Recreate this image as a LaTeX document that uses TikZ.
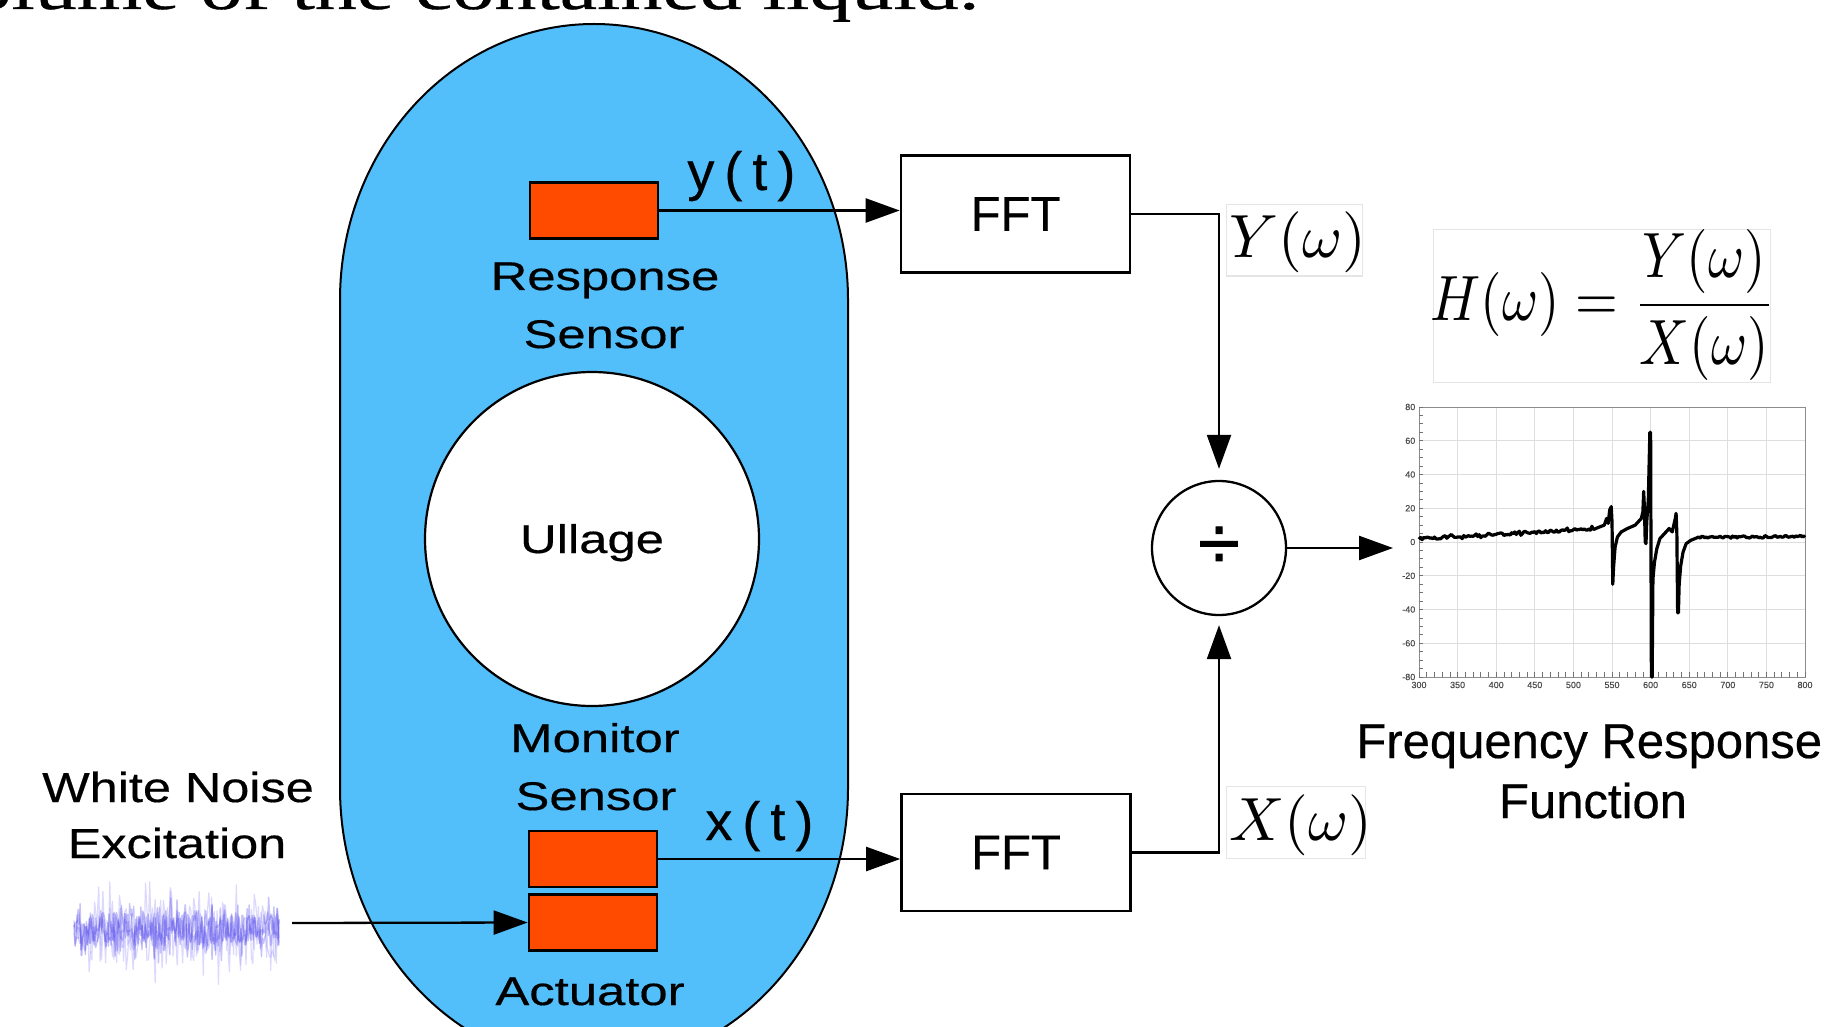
\documentclass[tikz,border=0pt]{standalone}
\usepackage[no-math]{fontspec}
\usepackage{graphicx}
\setmainfont[FakeBold=0.4]{Liberation Sans}
\newfontfamily\capfont[FakeStretch=1.27,FakeBold=0.4]{Liberation Sans}
\newfontfamily\noisefont[FakeStretch=1.2,FakeBold=0.4]{Liberation Sans}
\newfontfamily\topserif[FakeStretch=1.4,FakeBold=0.6]{Liberation Serif}
\newfontfamily\divfont[FakeBold=1]{Liberation Sans}
\usetikzlibrary{arrows.meta}
\definecolor{liq}{RGB}{82,190,250}
\definecolor{sens}{RGB}{255,75,0}
\definecolor{wave}{RGB}{85,75,235}
\definecolor{wavelight}{RGB}{140,130,250}
\definecolor{gridc}{RGB}{222,222,222}
\tikzset{
  capsule/.style={fill=liq,draw=black,line width=1pt},
  sensorbox/.style={draw=black,fill=sens,line width=1.4pt,minimum width=64pt,minimum height=28pt,inner sep=0pt},
  fftbox/.style={draw=black,line width=1.3pt,minimum width=114.5pt,minimum height=58.5pt,inner sep=0pt,font=\fontsize{24.5}{29}\selectfont},
  wire/.style={line width=1.15pt},
  conn/.style={wire,-{Triangle[length=17pt,width=12pt]}},
  captext/.style={inner sep=0pt,font=\capfont\fontsize{20}{24}\selectfont},
  sidetext/.style={inner sep=0pt,font=\noisefont\fontsize{21}{25}\selectfont},
  plaintext/.style={inner sep=0pt,font=\fontsize{24.5}{29}\selectfont},
  sigtext/.style={inner sep=0pt,font=\fontsize{27}{30}\selectfont},
  mathlab/.style={inner sep=0pt},
  faintbox/.style={draw=black!10,line width=0.5pt},
  ticklab/.style={inner sep=0.5pt,text=black!70,font=\fontsize{4.5}{5}\selectfont},
  gridline/.style={draw=gridc,line width=0.4pt},
  curvestyle/.style={line width=1.6pt,line join=round,draw=black},
  noisecore/.style={draw=wave,opacity=0.33,line width=0.7pt,line join=round},
  noiseedge/.style={draw=wavelight,opacity=0.3,line width=0.6pt,line join=round},
}
\begin{document}
\begin{tikzpicture}[x=0.5pt,y=-0.5pt]
\useasboundingbox (0,0) rectangle (1830,1027);
\clip (0,0) rectangle (1830,1027);
\fill[white] (0,0) rectangle (1830,1027);

% cropped caption line at the top
\node[anchor=base east,inner sep=0pt,font=\topserif\fontsize{30}{36}\selectfont] (toptext) at (980,9) {volume of the contained liquid.};

% tank (capsule)
\path[capsule] (340,300) arc[start angle=180,end angle=360,x radius=254,y radius=276]
  -- (848,788) arc[start angle=0,end angle=180,x radius=254,y radius=279] -- cycle;

% ullage
\node[circle,draw=black,fill=white,line width=1.1pt,minimum size=167pt,inner sep=0pt] (ull) at (592,539) {};
\node[captext,anchor=base] (ulltext) at (592,553) {Ullage};

% sensors
\node[sensorbox] (resp) at (594,210.5) {};
\node[sensorbox] (mon) at (593,859) {};
\node[sensorbox] (act) at (593,922.5) {};

\node[captext,anchor=base] (resplab1) at (605,290) {Response};
\node[captext,anchor=base] (resplab2) at (604,348) {Sensor};
\node[captext,anchor=base] (monlab1) at (595,752) {Monitor};
\node[captext,anchor=base] (monlab2) at (596,810) {Sensor};
\node[captext,anchor=base] (actlab) at (590,1005) {Actuator};

\node[sigtext,anchor=base west] (ylab) at (687,190) {y\kern5pt(\kern5pt t\kern5pt)};
\node[sigtext,anchor=base west] (xlab) at (705,840) {x\kern5pt(\kern5pt t\kern5pt)};

% FFT blocks and divider
\node[fftbox] (fft1) at (1015.5,214) {FFT};
\node[fftbox] (fft2) at (1016,852.5) {FFT};
\node[circle,draw=black,line width=1.15pt,minimum size=67pt,inner sep=0pt,font=\divfont\fontsize{38}{40}\selectfont] (div) at (1219,548) {÷};

% white noise
\node[sidetext,anchor=base] (wn1) at (178,802) {White Noise};
\node[sidetext,anchor=base] (wn2) at (177,858) {Excitation};
\pgfmathsetseed{7}
\foreach \k in {1,2} {
  \draw[noiseedge] plot[domain=74:279,samples=150,variable=\t] (\t,{932+25*rand+45*rand*rand});
}
\foreach \k in {1,2,3} {
  \draw[noisecore] plot[domain=74:279,samples=200,variable=\t] (\t,{930+16*rand+22*rand*rand});
}

% connectors
\coordinate (noiseout) at (292,923);
\coordinate (plotin) at (1393,548);
\draw[conn] (resp.east) -- (resp.east -| fft1.west);
\draw[conn] (mon.east) -- (mon.east -| fft2.west);
\draw[conn] (noiseout) -- (act.west);
\draw[conn,shorten >=5.5pt] (fft1.east) -| (div.north);
\draw[conn,shorten >=4.5pt] (fft2.east) -| (div.south);
\draw[conn] (div.east) -- (plotin);

% spectra labels
\draw[faintbox] (1226,205) rectangle (1362,276);
\node[mathlab,anchor=base west] (Ylab) at (1229,257) {\scalebox{3.05}{$Y(\omega)$}};
\draw[faintbox] (1226,786) rectangle (1365,858);
\node[mathlab,anchor=base west] (Xlab) at (1229,840) {\scalebox{3.05}{$X(\omega)$}};

% transfer function formula
\draw[faintbox] (1433,230) rectangle (1770,382);
\node[anchor=base,inner sep=0pt] (Hform) at (1603,321)
  {\scalebox{2.75}[3.2]{$\displaystyle H(\omega)=\frac{Y(\omega)}{X(\omega)}$}};

% FRF plot
\begin{scope}[shift={(1419,542)},x=0.386pt,y=0.84375pt]
  \foreach \f in {0,50,...,500} \draw[gridline] (\f,-80) -- (\f,80);
  \foreach \v in {-80,-60,...,80} \draw[gridline] (0,\v) -- (500,\v);
  \draw[draw=black!45,line width=0.5pt] (0,-80) rectangle (500,80);
  \foreach \f in {0,10,...,500} \draw[black!55,line width=0.4pt] (\f,-80) -- (\f,-77);
  \foreach \v in {-80,-75,...,80} \draw[black!55,line width=0.4pt] (0,\v) -- (5,\v);
  \foreach \v in {-80,-60,...,80} \node[ticklab,anchor=east] at (-3,\v) {\v};
  \foreach \f in {0,50,...,500} {
    \pgfmathtruncatemacro\lab{\f+300}
    \node[ticklab,anchor=north] at (\f,-82) {\lab};
  }
  \pgfmathsetseed{11}
  \draw[curvestyle] plot[domain=0:230,samples=116,variable=\t] (\t,{2+\t*0.026+0.9*rand+2.5*rand*rand*rand*rand})
    -- plot coordinates {(240,10) (243,14) (245,11) (247,19) (249,21) (250,12) (251,-25) (252,-15)
       (254,-3) (257,3) (262,6) (270,8) (280,10) (288,14) (290,18) (291,30) (292,20) (293,0) (294,-1)
       (295,12) (297,25) (299,65) (300,65) (301,-80) (302,-80) (303,-22) (305,-12) (308,-4) (312,2)
       (318,5) (324,8) (328,6) (330,10) (332,14) (333,17) (334,5) (335,-42) (336,-42) (337,-25)
       (339,-14) (342,-6) (346,-1) (352,1) (360,2.5)}
    -- plot[domain=362:500,samples=70,variable=\t] (\t,{2.6+0.006*(\t-360)+0.7*rand});
\end{scope}

% FRF caption
\node[plaintext,anchor=base west] (frf1) at (1356,758) {Frequency Response};
\node[plaintext,anchor=base] (frf2) at (1593,818) {Function};
\end{tikzpicture}
\end{document}
